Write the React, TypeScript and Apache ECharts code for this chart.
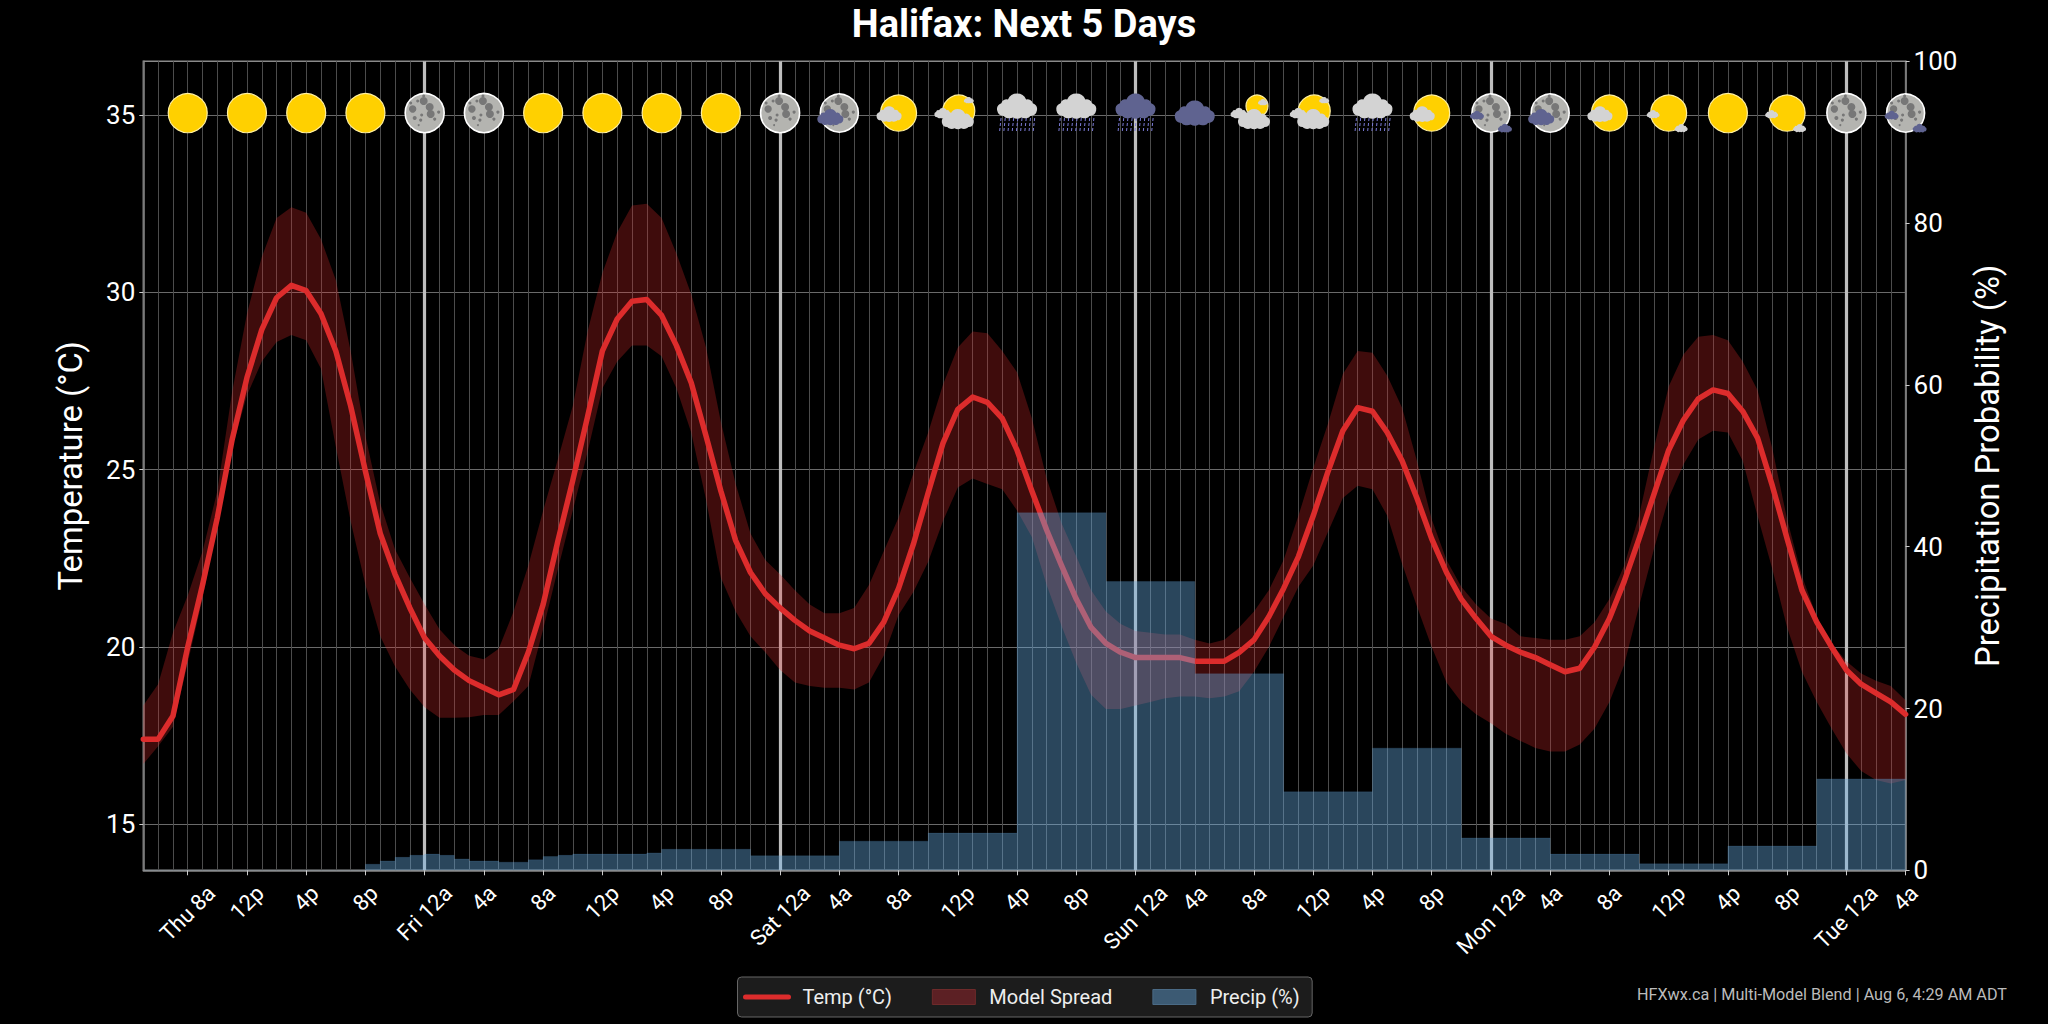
import React, { useEffect, useRef } from "react";
import * as echarts from "echarts";

const FONT = "Roboto";

const hours = Array.from({ length: 120 }, (_, i) => String(i));

const tempValues = [
  17.4, 17.4, 18.05, 20.0, 21.75, 23.65, 25.85, 27.6, 28.95, 29.85,
  30.2, 30.05, 29.4, 28.35, 26.8, 24.95, 23.2, 22.05, 21.1, 20.25,
  19.75, 19.35, 19.05, 18.85, 18.65, 18.8, 19.85, 21.2, 23.0, 24.7,
  26.5, 28.35, 29.25, 29.75, 29.8, 29.35, 28.5, 27.45, 25.95, 24.4,
  23.0, 22.1, 21.5, 21.1, 20.75, 20.45, 20.25, 20.05, 19.95, 20.1,
  20.7, 21.65, 22.9, 24.35, 25.75, 26.7, 27.05, 26.9, 26.45, 25.55,
  24.4, 23.3, 22.3, 21.35, 20.55, 20.1, 19.85, 19.7, 19.7, 19.7,
  19.7, 19.6, 19.6, 19.6, 19.85, 20.2, 20.85, 21.65, 22.55, 23.7,
  24.95, 26.1, 26.75, 26.65, 26.05, 25.25, 24.2, 23.05, 22.1, 21.35,
  20.8, 20.3, 20.05, 19.85, 19.7, 19.5, 19.3, 19.4, 20.0, 20.8,
  21.85, 23.05, 24.3, 25.55, 26.4, 27.0, 27.25, 27.15, 26.65, 25.9,
  24.55, 23.05, 21.6, 20.7, 20.0, 19.35, 18.95, 18.7, 18.45, 18.1,
];

const spreadHigh = [
  18.35, 18.95, 20.4, 21.45, 22.7, 24.4, 27.2, 29.4, 31.0, 32.1,
  32.4, 32.25, 31.5, 30.35, 28.35, 25.95, 24.05, 22.75, 21.95, 21.2,
  20.5, 20.05, 19.75, 19.65, 19.95, 21.0, 22.3, 23.85, 25.3, 26.8,
  28.9, 30.55, 31.7, 32.45, 32.5, 32.1, 31.1, 29.95, 28.45, 26.35,
  24.6, 23.2, 22.45, 22.05, 21.6, 21.2, 20.95, 20.95, 21.1, 21.75,
  22.7, 23.65, 24.9, 26.05, 27.4, 28.45, 28.9, 28.85, 28.35, 27.75,
  26.45, 24.75, 23.5, 22.55, 21.6, 21.0, 20.65, 20.45, 20.4, 20.35,
  20.35, 20.2, 20.1, 20.2, 20.55, 21.0, 21.6, 22.45, 23.7, 25.05,
  26.3, 27.7, 28.35, 28.3, 27.65, 26.75, 25.25, 23.6, 22.45, 21.7,
  21.2, 20.8, 20.65, 20.3, 20.25, 20.2, 20.2, 20.3, 20.7, 21.35,
  22.3, 23.7, 25.6, 27.35, 28.25, 28.75, 28.8, 28.65, 28.05, 27.25,
  25.6, 23.6, 22.0, 20.85, 20.1, 19.6, 19.25, 19.05, 18.9, 18.5,
];

const spreadLow = [
  16.7, 17.2, 17.75, 19.55, 21.35, 23.5, 25.6, 27.1, 28.05, 28.6,
  28.8, 28.65, 27.85, 25.65, 23.55, 21.75, 20.3, 19.45, 18.8, 18.3,
  18.0, 18.0, 18.02, 18.08, 18.08, 18.47, 18.9, 20.5, 22.2, 23.85,
  25.5, 27.3, 28.05, 28.5, 28.5, 28.2, 27.3, 26.05, 24.15, 21.95,
  21.0, 20.3, 19.85, 19.35, 19.0, 18.9, 18.85, 18.85, 18.8, 19.0,
  19.75, 20.9, 21.55, 22.4, 23.55, 24.5, 24.75, 24.6, 24.45, 23.85,
  23.1, 21.75, 20.6, 19.55, 18.65, 18.25, 18.25, 18.35, 18.45, 18.55,
  18.6, 18.6, 18.55, 18.6, 18.75, 19.3, 20.0, 20.85, 21.7, 22.3,
  23.25, 24.2, 24.55, 24.45, 23.7, 22.35, 21.15, 20.0, 19.0, 18.45,
  18.1, 17.85, 17.55, 17.35, 17.15, 17.05, 17.05, 17.25, 17.7, 18.45,
  19.5, 21.15, 22.75, 24.2, 25.15, 25.85, 26.1, 26.05, 25.25, 23.7,
  22.2, 20.55, 19.3, 18.45, 17.7, 17.0, 16.5, 16.25, 16.15, 16.25,
];

const precipValues = [
  0, 0, 0, 0, 0, 0, 0, 0, 0, 0,
  0, 0, 0, 0, 0, 0.75, 1.15, 1.6, 1.85, 2.0,
  1.85, 1.4, 1.15, 1.15, 1.0, 1.0, 1.3, 1.7, 1.85, 2.0,
  2.0, 2.0, 2.0, 2.0, 2.15, 2.6, 2.6, 2.6, 2.6, 2.6,
  2.6, 1.8, 1.8, 1.8, 1.8, 1.8, 1.8, 3.6, 3.6, 3.6,
  3.6, 3.6, 3.6, 4.6, 4.6, 4.6, 4.6, 4.6, 4.6, 44.2,
  44.2, 44.2, 44.2, 44.2, 44.2, 35.7, 35.7, 35.7, 35.7, 35.7,
  35.7, 24.3, 24.3, 24.3, 24.3, 24.3, 24.3, 9.7, 9.7, 9.7,
  9.7, 9.7, 9.7, 15.1, 15.1, 15.1, 15.1, 15.1, 15.1, 4.0,
  4.0, 4.0, 4.0, 4.0, 4.0, 2.0, 2.0, 2.0, 2.0, 2.0,
  2.0, 0.8, 0.8, 0.8, 0.8, 0.8, 0.8, 3.0, 3.0, 3.0,
  3.0, 3.0, 3.0, 11.3, 11.3, 11.3, 11.3, 11.3, 11.3, 11.3,
];

const tickHours = [
  3, 7, 11, 15, 19, 23, 27, 31, 35, 39, 43, 47, 51, 55, 59,
  63, 67, 71, 75, 79, 83, 87, 91, 95, 99, 103, 107, 111, 115, 119,
];
const tickLabels = [
  "Thu 8a", "12p", "4p", "8p", "Fri 12a", "4a", "8a", "12p", "4p", "8p",
  "Sat 12a", "4a", "8a", "12p", "4p", "8p", "Sun 12a", "4a", "8a", "12p",
  "4p", "8p", "Mon 12a", "4a", "8a", "12p", "4p", "8p", "Tue 12a", "4a",
];
const midnightHours = [19, 43, 67, 91, 115];
const iconKinds = [
  "sun", "sun", "sun", "sun", "moon", "moon", "sun", "sun", "sun", "sun",
  "moon", "moonCloud", "sunCloud", "partly", "rain", "rain", "rainDark", "dark", "partlySmall", "partly",
  "rain", "sunCloud", "moonClouds", "moonCloud", "sunCloud", "sunClouds", "sun", "sunClouds", "moon", "moonClouds",
];
const tempTicks = [15, 20, 25, 30, 35];
const ICON_LEVEL = 35.06;

const spreadDiff = spreadHigh.map((v, i) => +(v - spreadLow[i]).toFixed(2));

const CLOUD =
  "M18 62 A16 16 0 0 1 12 31 A13 13 0 0 1 28 22 A24 24 0 0 1 72 22 A13 13 0 0 1 88 31 A16 16 0 0 1 82 62 A14 8 0 0 1 60 66 A14 8 0 0 1 40 66 A14 8 0 0 1 18 62 Z";
const GREY = "#d3d3d3";
const DARK = "#5f6390";
const CRATERS = [
  [-1, -12, 4], [-12, -4, 3.7], [5, -6, 4], [6, 1, 4], [-3, 2, 1.5], [-10, 5, 2], [-4, 7, 1.6],
  [14, -1, 1.6], [-14, -10, 1.5], [-7, -12, 1.5], [10, 6, 1.6], [-1, -17, 1.5], [-6, 12, 1],
];

function cloud(cx: number, cy: number, w: number, h: number, fill: string) {
  return {
    type: "path",
    shape: { pathData: CLOUD, x: cx - w / 2, y: cy - h / 2, width: w, height: h },
    style: { fill },
  };
}
function disc(r: number, dx: number, dy: number, fill: string, stroke: string, lw = 1.3) {
  return { type: "circle", shape: { cx: dx, cy: dy, r }, style: { fill, stroke, lineWidth: lw } };
}
function sun(r: number, dx = 0, dy = 0) {
  return disc(r, dx, dy, "#ffd000", "#fff0a0", 1.2);
}
function moon(r: number) {
  return [
    disc(r, 0, 0, "#b4b4b0", "#ffffff", 1.6),
    ...CRATERS.map((c) => ({
      type: "circle",
      shape: { cx: c[0], cy: c[1], r: c[2] },
      style: { fill: "#777777" },
    })),
  ];
}
function rainStreaks() {
  const out: any[] = [];
  for (let i = 0; i < 9; i++) {
    const x = -17 + i * 4.2;
    out.push({
      type: "line",
      shape: { x1: x + 1, y1: 5, x2: x - 0.5, y2: 19 },
      style: { stroke: "#7c7cd8", lineWidth: 1, lineDash: [3, 2] },
    });
  }
  return out;
}
function iconChildren(kind: string): any[] {
  switch (kind) {
    case "sun":
      return [sun(19.5)];
    case "moon":
      return moon(19.5);
    case "moonCloud":
      return [...moon(19), cloud(-9, 4, 26, 18, DARK)];
    case "moonClouds":
      return [...moon(19), cloud(-14, 2, 14, 9, DARK), cloud(14, 15, 14, 10, DARK)];
    case "sunCloud":
      return [sun(18), cloud(-9.5, 1, 25, 18, GREY)];
    case "sunClouds":
      return [sun(18), cloud(-15.5, 1, 13, 9, GREY), cloud(12.5, 15, 13, 9, GREY)];
    case "partly":
      return [sun(16, 1, -2), cloud(-15, 0, 17, 12, GREY), cloud(11, -13, 10, 8, GREY), cloud(0, 6, 32, 25, GREY)];
    case "partlySmall":
      return [sun(11, 3, -7), cloud(-15, 0, 17, 12, GREY), cloud(9, -11, 10, 8, GREY), cloud(0, 6, 32, 25, GREY)];
    case "rain":
      return [...rainStreaks(), cloud(0, -7, 40, 27, GREY)];
    case "rainDark":
      return [...rainStreaks(), cloud(0, -7, 40, 27, DARK)];
    case "dark":
      return [cloud(0, 0, 40, 27, DARK)];
    default:
      return [];
  }
}

const LABEL_FONT_SIZE = 22;
function textWidth(text: string, size: number) {
  const ctx = document.createElement("canvas").getContext("2d") as CanvasRenderingContext2D;
  ctx.font = `${size}px ${FONT}`;
  return ctx.measureText(text).width;
}

export default function App() {
  const ref = useRef<HTMLDivElement>(null);
  useEffect(() => {
    document.body.style.margin = "0";
    document.body.style.background = "#000";
    const chart = echarts.init(ref.current!, undefined, { renderer: "svg" });
    const axisColor = "#8a8a8a";
    chart.setOption({
      animation: false,
      backgroundColor: "#000000",
      textStyle: { fontFamily: FONT },
      title: {
        text: "Halifax: Next 5 Days",
        left: "center",
        top: 0,
        textStyle: { color: "#ffffff", fontSize: 38, fontWeight: "bold", fontFamily: FONT },
      },
      grid: { left: 143.3, right: 142.4, top: 61.3, bottom: 153.7, show: true, borderColor: axisColor, borderWidth: 1.5 },
      legend: {
        left: 737.5,
        top: 977,
        padding: [10, 12.5, 10, 5.5],
        itemWidth: 43,
        itemHeight: 15,
        itemGap: 40,
        backgroundColor: "#1c1c1c",
        borderColor: "#666666",
        borderWidth: 1,
        borderRadius: 4,
        textStyle: { color: "#eeeeee", fontSize: 20, fontFamily: FONT, padding: [0, 0, 0, 9] },
        selectedMode: false,
        data: [
          {
            name: "Temp (°C)",
            itemStyle: { color: "rgba(0,0,0,0)", borderWidth: 0, opacity: 0 },
            lineStyle: { width: 5, color: "#dc2c2c" },
          },
          { name: "Model Spread", icon: "rect", itemStyle: { color: "#5c2024", borderColor: "#6e2a2a", borderWidth: 1 } },
          { name: "Precip (%)", icon: "rect", itemStyle: { color: "#3c5a73", borderColor: "#4a6a85", borderWidth: 1 } },
        ],
      },
      xAxis: {
        type: "category",
        data: hours,
        boundaryGap: false,
        axisLine: { lineStyle: { color: axisColor, width: 1.5 } },
        axisTick: { length: 5, interval: (i: number) => i % 4 === 3, lineStyle: { color: "#cccccc", width: 1 } },
        axisLabel: { show: false },
        splitLine: { show: true, interval: 0, lineStyle: { color: "#4c4c4c", width: 1 } },
      },
      yAxis: [
        {
          type: "value",
          min: 13.7,
          max: 36.52,
          name: "Temperature (°C)",
          nameLocation: "middle",
          nameRotate: 90,
          nameGap: 56,
          nameTextStyle: { color: "#ffffff", fontSize: 32.8, fontFamily: FONT },
          axisLine: { show: true, lineStyle: { color: axisColor, width: 1.5 } },
          axisTick: { show: true, length: 4, customValues: tempTicks, lineStyle: { color: "#cccccc" } },
          axisLabel: { color: "#ffffff", fontSize: 26, margin: 8, customValues: tempTicks, fontFamily: FONT },
          splitLine: { show: true, lineStyle: { color: "#6a6a6a", width: 1 } },
        },
        {
          type: "value",
          min: 0,
          max: 100,
          interval: 20,
          position: "right",
          name: "Precipitation Probability (%)",
          nameLocation: "middle",
          nameRotate: 90,
          nameGap: 66,
          nameTextStyle: { color: "#ffffff", fontSize: 32.8, fontFamily: FONT },
          axisLine: { show: true, lineStyle: { color: axisColor, width: 1.5 } },
          axisTick: { show: true, length: 4, lineStyle: { color: "#cccccc" } },
          axisLabel: { color: "#ffffff", fontSize: 26, margin: 8, fontFamily: FONT },
          splitLine: { show: false },
        },
      ],
      series: [
        {
          name: "Spread Low",
          type: "line",
          stack: "band",
          data: spreadLow,
          symbol: "none",
          silent: true,
          z: 2,
          lineStyle: { opacity: 0 },
          markLine: {
            silent: true,
            symbol: "none",
            z: 1,
            label: { show: false },
            lineStyle: { color: "#bebebe", width: 3.2, type: "solid" },
            data: midnightHours.map((h) => ({ xAxis: h })),
          },
        },
        {
          name: "Model Spread",
          type: "line",
          stack: "band",
          data: spreadDiff,
          symbol: "none",
          silent: true,
          z: 2,
          lineStyle: { opacity: 0 },
          areaStyle: { color: "rgba(228,43,43,0.28)", opacity: 1 },
        },
        {
          name: "Temp (°C)",
          type: "line",
          data: tempValues,
          symbol: "none",
          silent: true,
          z: 3,
          lineStyle: { color: "#dc2c2c", width: 5.5, join: "round", cap: "round" },
          itemStyle: { color: "#dc2c2c" },
        },
        {
          name: "Precip (%)",
          type: "line",
          yAxisIndex: 1,
          step: "end",
          data: precipValues,
          symbol: "none",
          silent: true,
          z: 4,
          lineStyle: { width: 1, color: "rgba(105,175,230,0.12)" },
          areaStyle: { color: "rgba(105,175,230,0.4)", opacity: 1 },
        },
        {
          name: "Sky",
          type: "custom",
          z: 10,
          silent: true,
          data: tickHours.map((h) => [h, ICON_LEVEL]),
          renderItem: (params: any, api: any) => {
            const p = api.coord([api.value(0), api.value(1)]);
            return { type: "group", x: p[0], y: p[1], children: iconChildren(iconKinds[params.dataIndex]) };
          },
        },
        {
          name: "Hour labels",
          type: "custom",
          z: 10,
          silent: true,
          data: tickHours.map((h) => [h, 13.7]),
          renderItem: (params: any, api: any) => {
            const p = api.coord([api.value(0), api.value(1)]);
            const text = tickLabels[params.dataIndex];
            const w = textWidth(text, LABEL_FONT_SIZE);
            const cy = p[1] + 13.5 + (Math.SQRT1_2 * (w + 16)) / 2;
            return {
              type: "text",
              x: p[0],
              y: cy,
              rotation: Math.PI / 4,
              style: {
                text,
                fill: "#ffffff",
                fontSize: LABEL_FONT_SIZE,
                fontFamily: FONT,
                align: "center",
                verticalAlign: "middle",
              },
            };
          },
        },
      ],
      graphic: [
        {
          type: "text",
          right: 41,
          top: 986,
          style: {
            text: "HFXwx.ca | Multi-Model Blend | Aug 6, 4:29 AM ADT",
            fill: "#bbbbbb",
            fontSize: 16.2,
            fontFamily: FONT,
          },
        },
      ],
    });
    return () => chart.dispose();
  }, []);
  return <div ref={ref} style={{ position: "absolute", left: 0, top: 0, width: 2048, height: 1024 }} />;
}
